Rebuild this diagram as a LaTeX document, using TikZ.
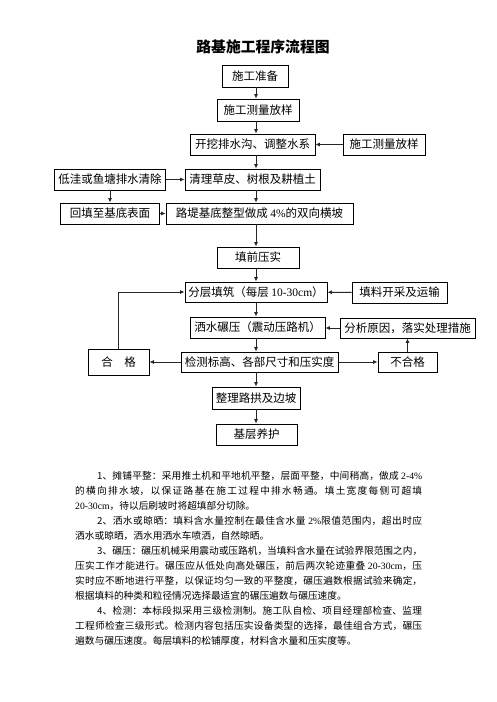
\documentclass[tikz,border=0pt]{standalone}
\usepackage{fontspec}
\setmainfont{Noto Sans CJK SC}
\newfontfamily\lat{Liberation Serif}
\usetikzlibrary{arrows.meta}
\XeTeXlinebreaklocale "zh"
\XeTeXlinebreakskip = 0pt plus 1pt minus 0.4pt

\begin{document}
\begin{tikzpicture}[x=1pt,y=-1pt]
\tikzstyle{box}=[draw,line width=0.8pt,inner sep=0pt,minimum height=21pt,font=\fontsize{11.5}{13}\selectfont]
\tikzstyle{arr}=[line width=1pt,black!85,-{Latex[length=4.5pt,width=4pt]}]
\tikzstyle{para}=[inner sep=0pt,text width=347pt,align=justify,font=\fontsize{9.7}{15}\selectfont]
\fill[white] (0,0) rectangle (496,702);
\useasboundingbox (0,0) rectangle (496,702);
\coordinate (col) at (256,0);
% title
\node[font=\bfseries\fontsize{14.8}{16}\selectfont] (title) at (263,47) {路基施工程序流程图};
% main column
\node[box,minimum width=66pt,minimum height=22pt] (zb) at (255,76) {施工准备};
\node[box,minimum width=82pt,minimum height=22pt] (cl1) at (258,110) {施工测量放样};
\node[box,minimum width=125pt] (kw) at (252.5,144.5) {开挖排水沟、调整水系};
\node[box,minimum width=135pt] (ql) at (252.5,179.5) {清理草皮、树根及耕植土};
\node[box,minimum width=187pt] (ld) at (259.5,213.5) {路堤基底整型做成 {\lat 4\%}的双向横坡};
\node[box,minimum width=82pt] (tq) at (258,257.5) {填前压实};
\node[box,minimum width=142pt,minimum height=20pt] (fc) at (256,292) {分层填筑（每层 {\lat 10-30cm}）};
\node[box,minimum width=135pt] (ss) at (257.5,327.5) {洒水碾压（震动压路机）};
\node[box,minimum width=157pt,minimum height=20pt] (jc) at (259.5,362) {检测标高、各部尺寸和压实度};
\node[box,minimum width=88pt,minimum height=22pt] (zl) at (256,398) {整理路拱及边坡};
\node[box,minimum width=81pt] (jy) at (256.5,434.5) {基层养护};
% side boxes
\node[box,minimum width=82pt] (cl2) at (384,144.5) {施工测量放样};
\node[box,minimum width=111pt] (dw) at (110,179.5) {低洼或鱼塘排水清除};
\node[box,minimum width=99pt] (ht) at (110,213.5) {回填至基底表面};
\node[box,minimum width=95pt] (tl) at (399.5,292.5) {填料开采及运输};
\node[box,minimum width=135pt,minimum height=20pt] (fx) at (407.5,328) {分析原因，落实处理措施};
\node[box,minimum width=61pt,minimum height=26pt] (hg) at (118.5,362) {合\quad 格};
\node[box,minimum width=59pt,minimum height=20pt] (bhg) at (407.5,362) {不合格};
% connectors
\draw[arr] (col |- zb.south) -- (col |- cl1.north);
\draw[arr] (col |- cl1.south) -- (col |- kw.north);
\draw[arr] (col |- kw.south) -- (col |- ql.north);
\draw[arr] (col |- ql.south) -- (col |- ld.north);
\draw[arr] (col |- ld.south) -- (col |- tq.north);
\draw[arr] (col |- tq.south) -- (col |- fc.north);
\draw[arr] (col |- fc.south) -- (col |- ss.north);
\draw[arr] (col |- ss.south) -- (col |- jc.north);
\draw[arr] (col |- jc.south) -- (col |- zl.north);
\draw[arr] (col |- zl.south) -- (col |- jy.north);
\draw[arr] (cl2) -- (kw);
\draw[arr] (dw) -- (ql);
\draw[arr] (dw) -- (ht);
\draw[arr] (ht) -- (ld);
\draw[arr] (tl) -- (fc);
\draw[arr] (fx.west) -- (fx.west -| ss.east);
\draw[arr] (jc) -- (hg);
\draw[arr] (jc) -- (bhg);
\draw[arr] (bhg) -- (fx);
\draw[arr] (hg.north) |- (fc.west);
% notes
\node[para,anchor=north west] (txt) at (75,471) {%
\hspace*{22pt}1、摊铺平整：采用推土机和平地机平整，层面平整，中间稍高，做成 {\lat 2-4\%}\linebreak
的横向排水坡，以保证路基在施工过程中排水畅通。填土宽度每侧可超填\linebreak
{\lat 20-30cm}，待以后刷坡时将超填部分切除。\par
\hspace*{22pt}2、洒水或晾晒：填料含水量控制在最佳含水量 {\lat 2\%}限值范围内，超出时应\linebreak
洒水或晾晒，洒水用洒水车喷洒，自然晾晒。\par
\hspace*{22pt}3、碾压：碾压机械采用震动或压路机，当填料含水量在试验界限范围之内，\linebreak
压实工作才能进行。碾压应从低处向高处碾压，前后两次轮迹重叠 {\lat 20-30cm}，压\linebreak
实时应不断地进行平整，以保证均匀一致的平整度，碾压遍数根据试验来确定，\linebreak
根据填料的种类和粒径情况选择最适宜的碾压遍数与碾压速度。\par
\hspace*{22pt}4、检测：本标段拟采用三级检测制。施工队自检、项目经理部检查、监理\linebreak
工程师检查三级形式。检测内容包括压实设备类型的选择，最佳组合方式，碾压\linebreak
遍数与碾压速度。每层填料的松铺厚度，材料含水量和压实度等。};
\end{tikzpicture}
\end{document}
